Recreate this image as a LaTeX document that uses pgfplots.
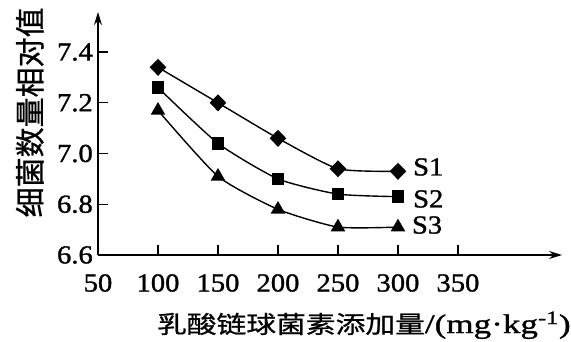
\documentclass[border=0pt]{standalone}
\usepackage{fontspec}
\setmainfont[FakeStretch=1.1, FakeBold=1.2]{Liberation Serif}
\newfontfamily\cjk[FakeBold=0.8]{Noto Sans CJK SC}
\newfontfamily\cjkx[FakeStretch=1.24, FakeBold=0.8]{Noto Sans CJK SC}
\newfontfamily\latx[FakeStretch=1.3, FakeBold=1.2]{Liberation Serif}
\usepackage{pgfplots}
\pgfplotsset{compat=1.18}
\usetikzlibrary{arrows.meta}
\begin{document}
\begin{tikzpicture}
\begin{axis}[
  at={(0,0)}, anchor=south west,
  scale only axis, width=464pt, height=243pt,
  xmin=50, xmax=436.7, ymin=6.6, ymax=7.558,
  axis lines=left,
  axis line style={line width=1.4pt, black},
  x axis line style={-{Stealth[length=13pt,width=8pt]}},
  y axis line style={-{Stealth[length=13pt,width=8pt]}},
  tick align=inside, major tick length=10pt,
  tick style={line width=1.3pt, black},
  /pgf/number format/assume math mode=true,
  xtick={50,100,150,200,250,300,350},
  xticklabels={50,100,150,200,250,300,350},
  ytick={6.6,6.8,7.0,7.2,7.4},
  yticklabels={6.6,6.8,7.0,7.2,7.4},
  ticklabel style={font=\fontsize{26}{26}\rmfamily},
  xticklabel style={anchor=center, inner sep=0pt, yshift=-28pt},
  yticklabel style={anchor=east, inner sep=0pt, xshift=-5pt},
  xlabel={{\fontsize{24}{24}\cjkx 乳酸链球菌素添加量}{\fontsize{27}{27}\latx /(mg·kg\textsuperscript{-1})}},
  ylabel={\fontsize{30}{30}\cjk 细菌数量相对值},
  xlabel style={at={(rel axis cs:0.573,-0.289)}, anchor=center, inner sep=0pt},
  ylabel style={at={(rel axis cs:-0.147,0.587)}, anchor=center, inner sep=0pt},
  clip=false,
]
\addplot[black, line width=1.4pt, smooth, tension=0.35, mark=diamond*, mark size=7.5pt, mark options={solid, fill=black, xscale=1.3}] coordinates {
  (100,7.34) (150,7.20) (200,7.06) (250,6.94) (300,6.93)};
\addplot[black, line width=1.4pt, smooth, tension=0.35, mark=square*, mark size=5.5pt, mark options={solid, fill=black}] coordinates {
  (100,7.26) (150,7.04) (200,6.90) (250,6.84) (300,6.83)};
\addplot[black, line width=1.4pt, smooth, tension=0.35, mark=triangle*, mark size=7pt, mark options={solid, fill=black}] coordinates {
  (100,7.17) (150,6.91) (200,6.78) (250,6.71) (300,6.71)};
\node[anchor=west, inner sep=0pt, font=\fontsize{26}{26}\rmfamily] at (axis cs:312.5,6.947) {S1};
\node[anchor=west, inner sep=0pt, font=\fontsize{26}{26}\rmfamily] at (axis cs:312.5,6.821) {S2};
\node[anchor=west, inner sep=0pt, font=\fontsize{26}{26}\rmfamily] at (axis cs:311.5,6.718) {S3};
\end{axis}
\pgfresetboundingbox
\path[use as bounding box] (-98pt,-87pt) rectangle (473pt,255pt);
\end{tikzpicture}
\end{document}
